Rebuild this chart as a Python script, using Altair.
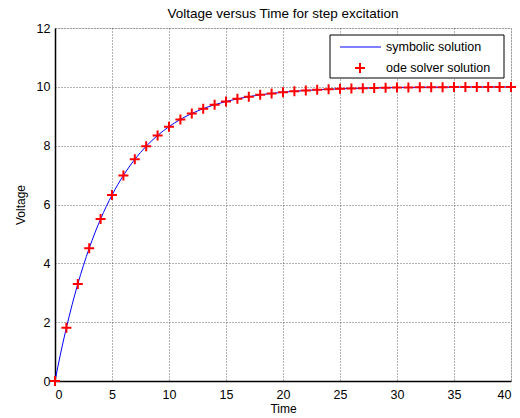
import altair as alt
import pandas as pd

# ODE solver samples (t = 0..40)
t_ode = list(range(0, 41))
v_ode = [0.0, 1.813, 3.297, 4.512, 5.507, 6.321, 6.988, 7.534, 7.981, 8.347,
         8.647, 8.892, 9.093, 9.257, 9.392, 9.502, 9.592, 9.666, 9.727, 9.776,
         9.817, 9.850, 9.877, 9.899, 9.918, 9.933, 9.945, 9.955, 9.963, 9.970,
         9.975, 9.980, 9.983, 9.986, 9.989, 9.991, 9.993, 9.994, 9.995, 9.996,
         9.997]

# symbolic solution curve samples
t_sym = [0, 0.5, 1, 1.5, 2, 2.5, 3, 3.5, 4, 4.5, 5, 5.5, 6, 6.5, 7, 7.5, 8,
         8.5, 9, 9.5, 10, 11, 12, 13, 14, 15, 16, 17, 18, 19, 20, 22, 24, 26,
         28, 30, 32, 34, 36, 38, 40]
v_sym = [0.0, 0.952, 1.813, 2.592, 3.297, 3.935, 4.512, 5.034, 5.507, 5.934,
         6.321, 6.671, 6.988, 7.275, 7.534, 7.769, 7.981, 8.173, 8.347, 8.504,
         8.647, 8.892, 9.093, 9.257, 9.392, 9.502, 9.592, 9.666, 9.727, 9.776,
         9.817, 9.877, 9.918, 9.945, 9.963, 9.975, 9.983, 9.989, 9.993, 9.995,
         9.997]

legend_labels = ["symbolic solution", "ode solver solution"]

df_ode = pd.DataFrame({"t": t_ode, "v": v_ode})
df_sym = pd.DataFrame({"t": t_sym, "v": v_sym})

W, H = 456, 353
FONT = "Liberation Sans"
CROSS = "M-1,0L1,0M0,-1L0,1"

xs = alt.Scale(domain=[0, 40], nice=False, zero=False)
ys = alt.Scale(domain=[0, 12], nice=False, zero=False)

common = dict(grid=True, ticks=False, format="d",
              domainColor="black", domainWidth=1.5,
              labelFont=FONT, labelFontSize=12.5, labelColor="black",
              titleFont=FONT, titleFontSize=12, titleFontWeight="normal", titleColor="black",
              gridColor="#555555", gridDash=[1, 2], gridOpacity=0.9, gridWidth=1)

xax = alt.Axis(values=list(range(0, 41, 5)), title="Time", labelPadding=7, titlePadding=3, **common)
yax = alt.Axis(values=list(range(0, 13, 2)), title="Voltage", labelPadding=5, titlePadding=9, **common)

line = alt.Chart(df_sym).mark_line(color="#0000ff", strokeWidth=1, interpolate="monotone").encode(
    x=alt.X("t:Q", scale=xs, axis=xax),
    y=alt.Y("v:Q", scale=ys, axis=yax),
)

pts = alt.Chart(df_ode).mark_point(shape=CROSS, size=100, stroke="#ff0000",
                                   strokeWidth=2, filled=False, opacity=1).encode(
    x=alt.X("t:Q", scale=xs),
    y=alt.Y("v:Q", scale=ys),
)

# manual legend box
leg_df = pd.DataFrame({"label": legend_labels, "row": [0, 1]})
box = alt.Chart(pd.DataFrame({"a": [0]})).mark_rect(
    fill="white", stroke="black", strokeWidth=1
).encode(x=alt.value(275), x2=alt.value(449), y=alt.value(7), y2=alt.value(50))
leg_line = alt.Chart(pd.DataFrame({"a": [0]})).mark_rule(color="#0000ff", strokeWidth=1).encode(
    x=alt.value(285), x2=alt.value(326), y=alt.value(19), y2=alt.value(19))
leg_pt = alt.Chart(pd.DataFrame({"a": [0]})).mark_point(
    shape=CROSS, size=100, stroke="#ff0000", strokeWidth=2, opacity=1
).encode(x=alt.value(305), y=alt.value(40))
leg_txt1 = alt.Chart(leg_df[leg_df.row == 0]).mark_text(
    align="left", baseline="middle", font=FONT, fontSize=12.5, color="black"
).encode(x=alt.value(331), y=alt.value(19), text="label:N")
leg_txt2 = alt.Chart(leg_df[leg_df.row == 1]).mark_text(
    align="left", baseline="middle", font=FONT, fontSize=12.5, color="black"
).encode(x=alt.value(331), y=alt.value(40), text="label:N")

chart = alt.layer(line, pts, box, leg_line, leg_pt, leg_txt1, leg_txt2).properties(
    width=W, height=H,
    title=alt.TitleParams("Voltage versus Time for step excitation", font=FONT,
                          fontSize=13.5, fontWeight="normal", color="black", offset=2),
    autosize=alt.AutoSizeParams(type="none"),
    padding={"left": 55, "top": 28, "right": 9, "bottom": 37},
).configure_view(stroke="black", strokeWidth=1).configure(background="white")

chart.save("out.html", embed_options={"renderer": "svg", "actions": False})
